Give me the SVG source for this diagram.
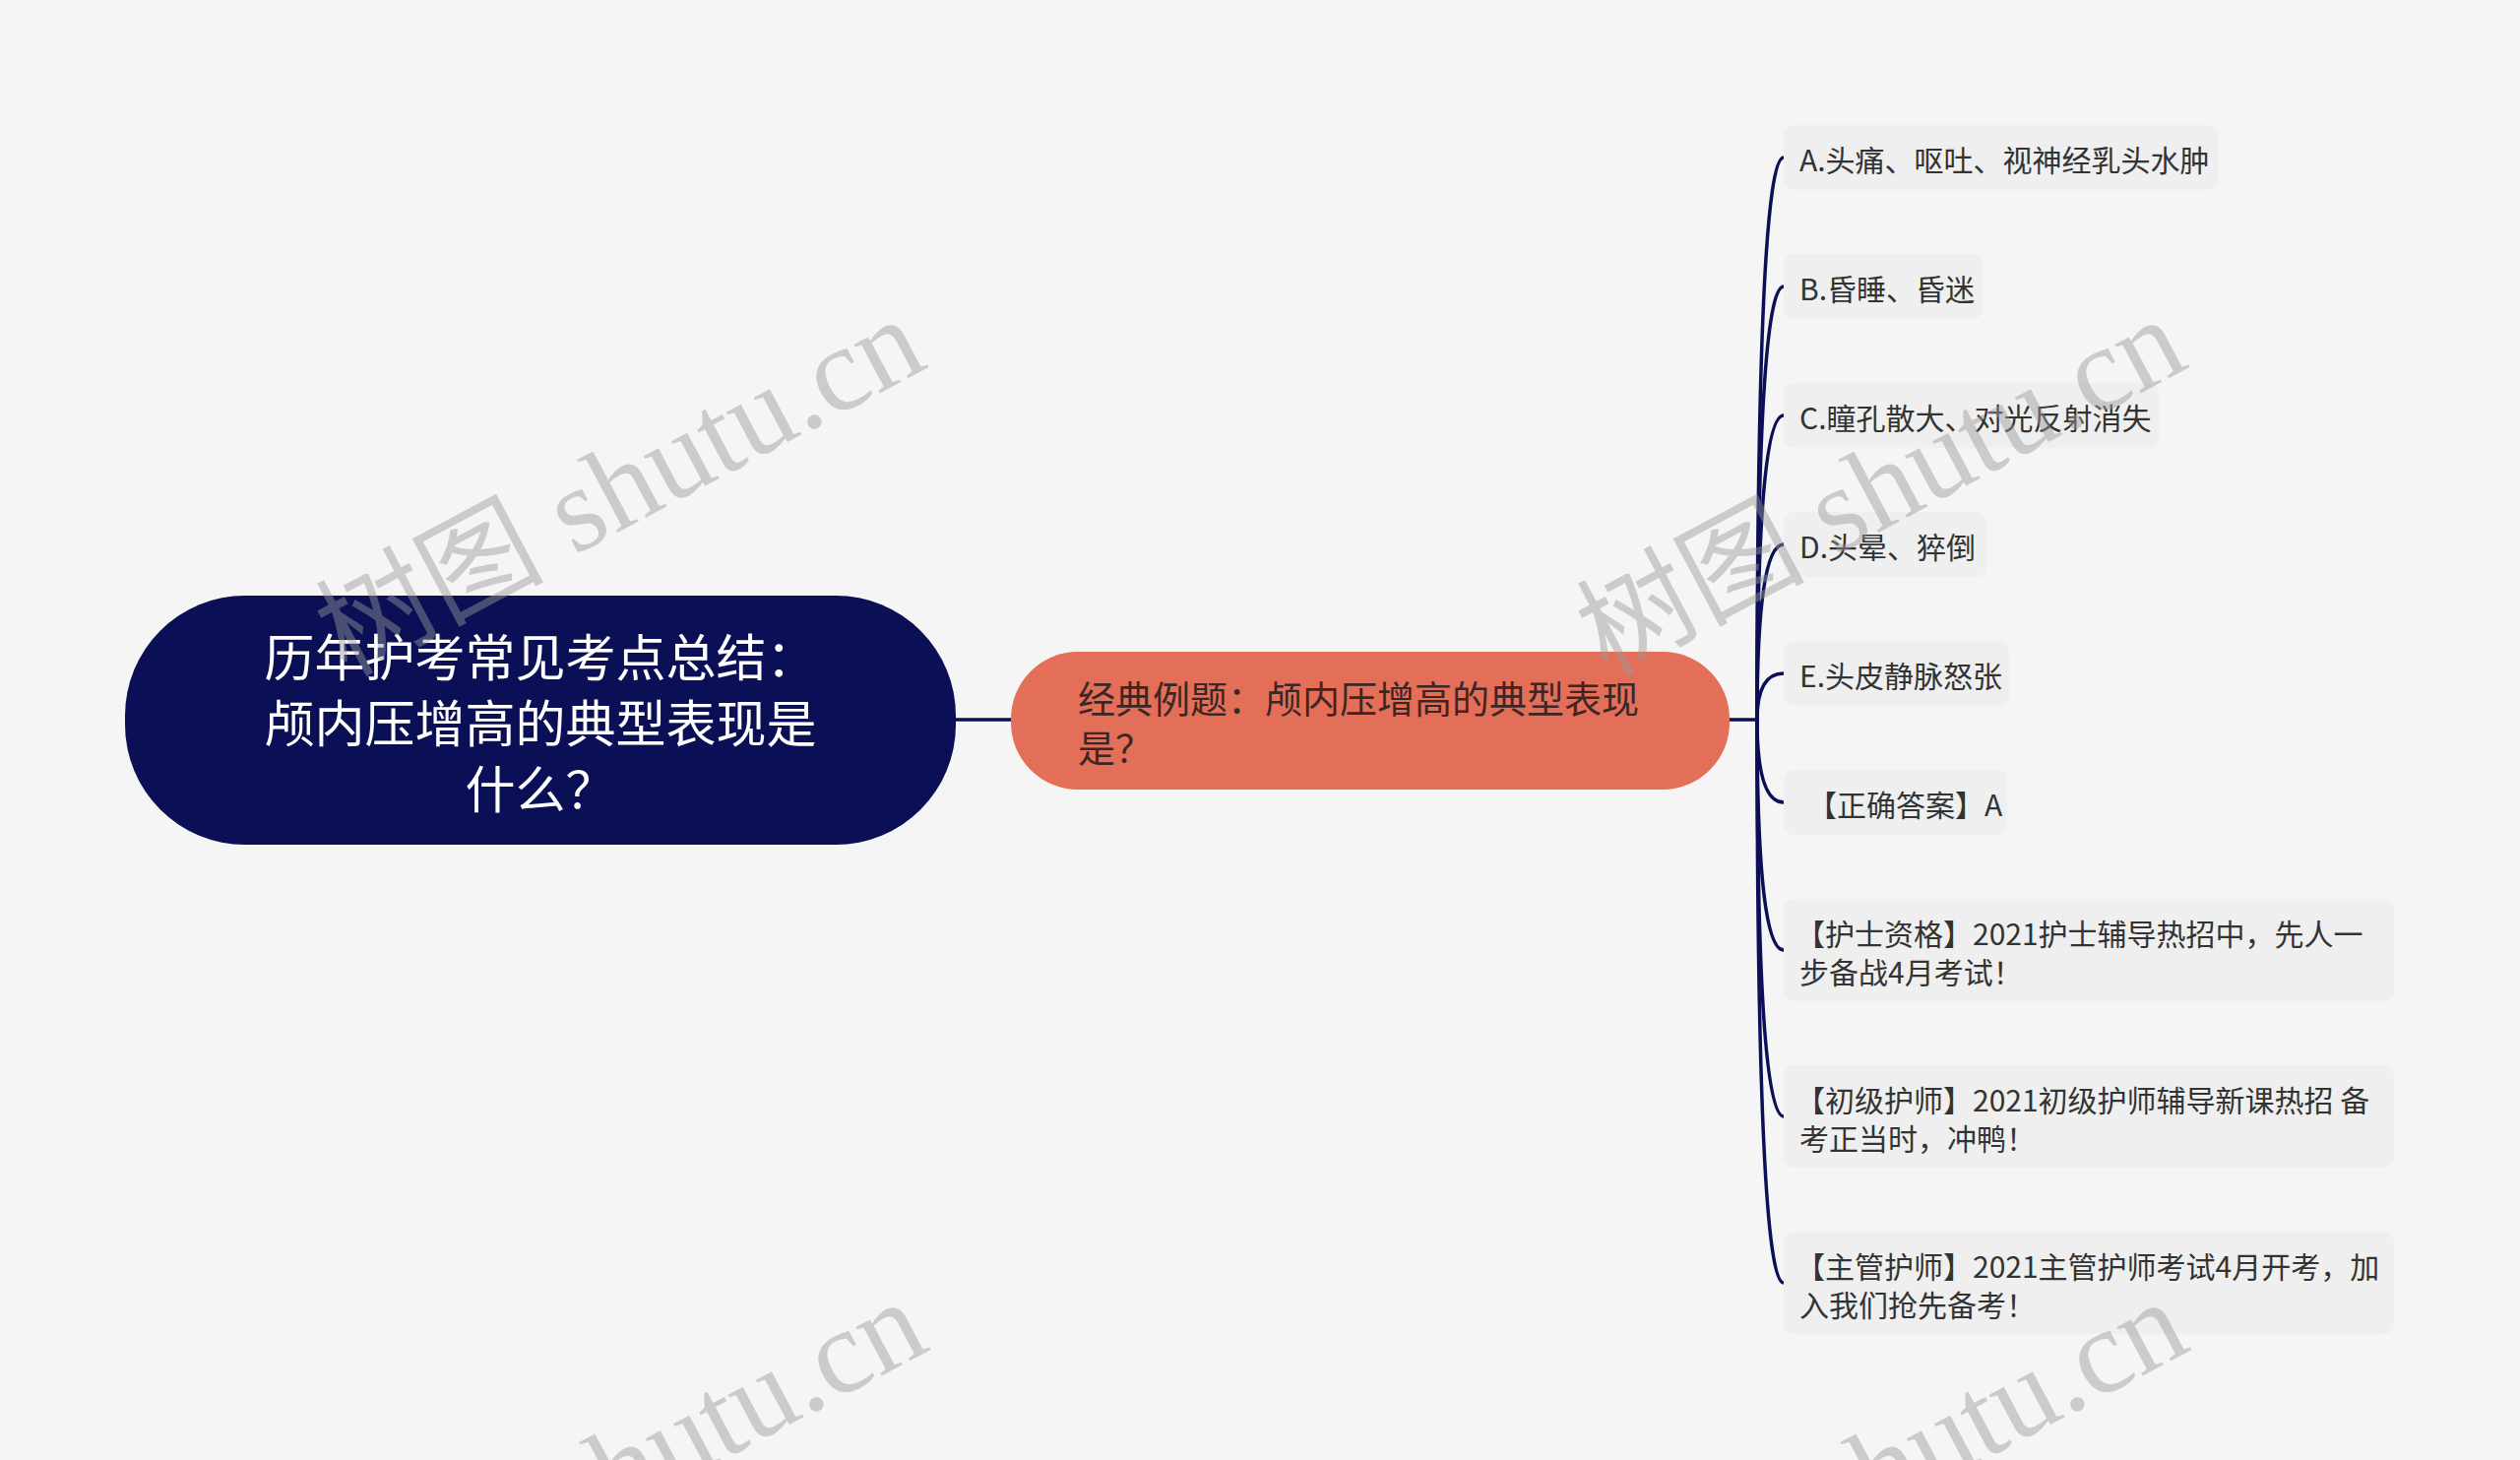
<svg xmlns="http://www.w3.org/2000/svg" width="2560" height="1483" viewBox="0 0 2560 1483">
<style>
.cjk{font-family:"Noto Sans CJK SC","Noto Sans",sans-serif}
.root-t{font-size:51px;fill:#ffffff}
.mid-t{font-size:38px;fill:#3d2626}
.leaf-t{font-size:30px;fill:#333333}
.leaf{fill:#efefef}
.conn{fill:none;stroke:#0a0f56;stroke-width:3.5;stroke-linecap:round}
.wm{fill:#9a9a9a;fill-opacity:0.45}
.wm-cjk{font-family:"Noto Sans CJK SC",sans-serif;font-size:116px}
.wm-lat{font-family:"Liberation Serif",serif;font-size:122px}
</style>
<rect x="0" y="0" width="2560" height="1483" fill="#f5f5f5"/>

<g id="connectors">
<line class="conn" x1="971" y1="731" x2="1027" y2="731"/>
<line class="conn" x1="1757" y1="731" x2="1785" y2="731"/>
<path class="conn" d="M1785 731 Q1785 160 1812 160"/>
<path class="conn" d="M1785 731 Q1785 291 1812 291"/>
<path class="conn" d="M1785 731 Q1785 422 1812 422"/>
<path class="conn" d="M1785 731 Q1785 553 1812 553"/>
<path class="conn" d="M1785 731 Q1785 684 1812 684"/>
<path class="conn" d="M1785 731 Q1785 815 1812 815"/>
<path class="conn" d="M1785 731 Q1785 965 1812 965"/>
<path class="conn" d="M1785 731 Q1785 1134 1812 1134"/>
<path class="conn" d="M1785 731 Q1785 1303 1812 1303"/>
</g>

<g id="root">
<rect x="127" y="605" width="844" height="253" rx="122" ry="122" fill="#0a0f56"/>
<text class="cjk root-t" text-anchor="middle" dominant-baseline="central"><tspan x="549" y="665">历年护考常见考点总结：</tspan><tspan x="549" y="732">颅内压增高的典型表现是</tspan><tspan x="549" y="799">什么？</tspan></text>
</g>

<g id="question">
<rect x="1027" y="662" width="730" height="140" rx="68" ry="68" fill="#e36f59"/>
<text class="cjk mid-t" dominant-baseline="central"><tspan x="1095" y="707">经典例题：颅内压增高的典型表现</tspan><tspan x="1095" y="757">是？</tspan></text>
</g>

<g id="opt-a">
<rect class="leaf" x="1812" y="127" width="441" height="66" rx="10"/>
<text class="cjk leaf-t" x="1828" y="161" dominant-baseline="central">A.头痛、呕吐、视神经乳头水肿</text>
</g>
<g id="opt-b">
<rect class="leaf" x="1812" y="258" width="202" height="66" rx="10"/>
<text class="cjk leaf-t" x="1828" y="292" dominant-baseline="central">B.昏睡、昏迷</text>
</g>
<g id="opt-c">
<rect class="leaf" x="1812" y="389" width="381" height="66" rx="10"/>
<text class="cjk leaf-t" x="1828" y="423" dominant-baseline="central">C.瞳孔散大、对光反射消失</text>
</g>
<g id="opt-d">
<rect class="leaf" x="1812" y="520" width="206" height="66" rx="10"/>
<text class="cjk leaf-t" x="1828" y="554" dominant-baseline="central">D.头晕、猝倒</text>
</g>
<g id="opt-e">
<rect class="leaf" x="1812" y="651" width="229" height="66" rx="10"/>
<text class="cjk leaf-t" x="1828" y="685" dominant-baseline="central">E.头皮静脉怒张</text>
</g>
<g id="answer">
<rect class="leaf" x="1812" y="782" width="227" height="66" rx="10"/>
<text class="cjk leaf-t" x="1836" y="816" dominant-baseline="central">【正确答案】A</text>
</g>
<g id="ad-nurse">
<rect class="leaf" x="1812" y="913" width="620" height="104" rx="10"/>
<text class="cjk leaf-t" dominant-baseline="central"><tspan x="1824" y="947">【护士资格】2021护士辅导热招中，先人一</tspan><tspan x="1828" y="986">步备战4月考试！</tspan></text>
</g>
<g id="ad-junior">
<rect class="leaf" x="1812" y="1082" width="620" height="104" rx="10"/>
<text class="cjk leaf-t" dominant-baseline="central"><tspan x="1824" y="1116">【初级护师】2021初级护师辅导新课热招 备</tspan><tspan x="1828" y="1155">考正当时，冲鸭！</tspan></text>
</g>
<g id="ad-senior">
<rect class="leaf" x="1812" y="1251" width="620" height="104" rx="10"/>
<text class="cjk leaf-t" dominant-baseline="central"><tspan x="1824" y="1285">【主管护师】2021主管护师考试4月开考，加</tspan><tspan x="1828" y="1324">入我们抢先备考！</tspan></text>
</g>

<g id="watermarks" class="wm">
<text transform="translate(945,372) rotate(-28)" text-anchor="end"><tspan class="wm-cjk">树图</tspan><tspan class="wm-lat"> shutu.cn</tspan></text>
<text transform="translate(2226,372) rotate(-28)" text-anchor="end"><tspan class="wm-cjk">树图</tspan><tspan class="wm-lat"> shutu.cn</tspan></text>
<text transform="translate(947,1370) rotate(-28)" text-anchor="end"><tspan class="wm-cjk">树图</tspan><tspan class="wm-lat"> shutu.cn</tspan></text>
<text transform="translate(2228,1370) rotate(-28)" text-anchor="end"><tspan class="wm-cjk">树图</tspan><tspan class="wm-lat"> shutu.cn</tspan></text>
</g>
</svg>
